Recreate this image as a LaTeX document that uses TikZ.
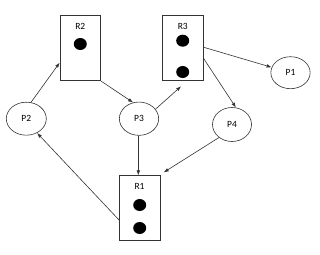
\documentclass[tikz,border=0pt]{standalone}
\usepackage{fontspec}
\setmainfont{Carlito}
\usetikzlibrary{arrows.meta,shapes.geometric,calc}
\tikzset{
  res/.style={draw=black!80,line width=0.6pt,rectangle,minimum width=40.7pt,minimum height=65pt,inner sep=0pt},
  proc/.style={draw=black!80,line width=0.6pt,ellipse,inner sep=0pt,font=\fontsize{9.5}{11}\selectfont},
  lbl/.style={inner sep=0pt,font=\fontsize{9.5}{11}\selectfont},
  dot/.style={fill=black,ellipse,minimum width=13pt,minimum height=12pt,inner sep=0pt},
  conn/.style={draw=black!80,line width=0.6pt,-{Latex[length=5pt,width=3.6pt]}}
}
\begin{document}
\begin{tikzpicture}[x=1pt,y=-1pt]
\useasboundingbox[fill=white] (0,0) rectangle (320,254);
% resources
\node[res] (r2) at (80.3,48.2) {};
\node[lbl] (r2l) at (80.3,26) {R2};
\node[dot] (r2d1) at (80.3,44) {};
\node[res] (r3) at (182.8,48.2) {};
\node[lbl] (r3l) at (182.8,26) {R3};
\node[dot] (r3d1) at (182.7,40.7) {};
\node[dot] (r3d2) at (182.7,72) {};
\node[res] (r1) at (139.7,208.2) {};
\node[lbl] (r1l) at (139.5,186) {R1};
\node[dot] (r1d1) at (139.7,205) {};
\node[dot] (r1d2) at (139.7,228) {};
% processes
\node[proc,minimum width=39.3pt,minimum height=32pt] (p1) at (290.5,72.7) {P1};
\node[proc,minimum width=40pt,minimum height=33pt] (p2) at (26.3,118.7) {P2};
\node[proc,minimum width=39.3pt,minimum height=33.3pt] (p3) at (139,118.7) {P3};
\node[proc,minimum width=39pt,minimum height=34pt] (p4) at (232,124.5) {P4};
% connectors
\draw[conn] (p2.74) -- (r2.215.5);
\draw[conn] (r2.south east) -- (p3.110);
\draw[conn] (p3.30) -- ([xshift=-1.7pt,yshift=-5.3pt]r3.south);
\draw[conn] ([yshift=1pt]r3.east) -- (p1.164);
\draw[conn] ([yshift=-10pt]r3.east) -- (p4.77);
\draw[conn] ([xshift=-0.7pt]p3.south) -- ([xshift=-0.7pt]p3.south |- r1.north);
\draw[conn] (p4.225) -- ([xshift=3.3pt,yshift=3pt]r1.north east);
\draw[conn] ([yshift=-11.8pt]r1.west) -- (p2.307);
\end{tikzpicture}
\end{document}
